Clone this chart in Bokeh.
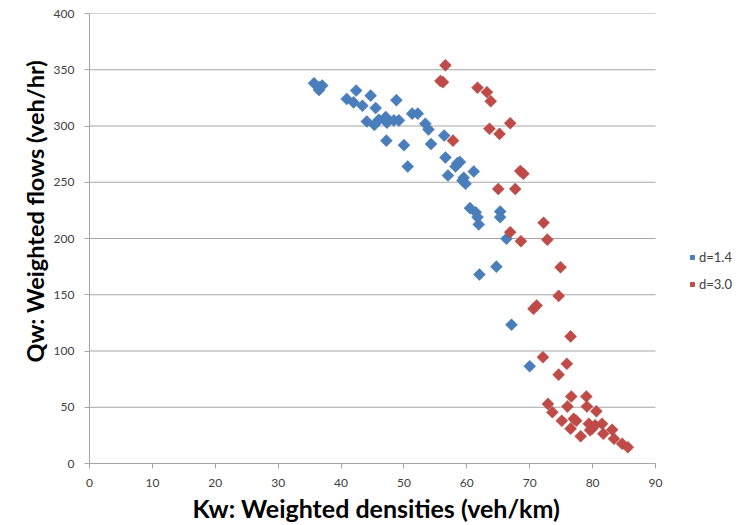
import numpy as np
from bokeh.plotting import figure
from bokeh.models import Range1d, FixedTicker, Legend, LegendItem, Title
from bokeh.embed import file_html
from bokeh.resources import INLINE

# Weighted density / flow pairs for the two d values
kw_d14 = [35.7, 36.6, 37.0, 36.5, 40.9, 42.4, 42.0, 43.4, 44.7, 45.5, 48.8, 44.1,
          45.3, 46.0, 47.1, 47.3, 48.4, 49.2, 51.3, 52.2, 53.4, 53.9, 47.2, 50.0,
          54.3, 56.4, 56.6, 50.6, 58.9, 58.2, 57.0, 61.1, 59.5, 59.8, 59.3, 58.5,
          60.5, 61.4, 61.7, 61.9, 65.3, 65.3, 66.3, 64.7, 62.0, 67.1, 70.0]
qw_d14 = [338, 334.5, 336, 332, 324, 331.5, 321, 318, 327, 316, 323, 304,
          301, 305.5, 308, 303, 305, 305, 311, 311, 302, 297, 287, 283,
          284, 291.5, 272, 264, 268, 264, 256, 259.5, 254, 248.6, 251.5, 267,
          227, 223.4, 219, 212.5, 224, 219, 199.7, 175, 168, 123.3, 86.5]

kw_d30 = [56.6, 55.8, 56.2, 61.7, 63.2, 63.8, 66.9, 63.6, 65.2, 57.8, 68.5, 69.0,
          65.0, 67.7, 72.2, 66.9, 68.6, 72.8, 74.9, 74.6, 70.6, 71.1, 76.5, 72.1,
          75.9, 74.6, 72.9, 73.6, 76.6, 76.0, 79.0, 79.1, 80.6, 75.1, 77.0, 77.4,
          76.5, 78.1, 79.4, 79.9, 80.4, 79.6, 81.5, 81.7, 83.1, 83.4, 84.7, 85.6]
qw_d30 = [354, 340, 339, 334, 330, 322, 302.5, 297.5, 293, 287, 260, 257.5,
          244, 244, 214, 205.6, 197.6, 199, 174.5, 149, 137.5, 140.4, 113, 94.5,
          88.6, 79, 53, 45.6, 59.6, 50.7, 59.6, 50.7, 46.5, 38, 39.7, 38,
          31, 24.3, 35.3, 31, 34, 29.6, 35.3, 26.4, 30, 22, 17.5, 14.5]

series_labels = ["d=1.4", "d=3.0"]
x_ticks = list(range(0, 91, 10))
y_ticks = list(range(0, 401, 50))

BLUE = "#4a7ebb"
RED = "#be4b48"
FONT = "Lato"
GRID = "#a6a6a6"

X_MAX = x_ticks[-1]
# the frame runs on past the last tick to leave room for the legend
X_VIEW = X_MAX * 650 / 566

p = figure(width=739, height=525, output_backend="svg", toolbar_location=None,
           x_range=Range1d(0, X_VIEW), y_range=Range1d(0, 400),
           min_border_left=89, min_border_right=0, min_border_top=13,
           min_border_bottom=62)
p.outline_line_color = None
p.background_fill_color = "white"
p.border_fill_color = "white"

# gridlines: horizontal only, stopping at the last x tick
p.xgrid.grid_line_color = None
p.ygrid.grid_line_color = None
p.segment(x0=[0] * len(y_ticks), x1=[X_MAX] * len(y_ticks), y0=y_ticks, y1=y_ticks,
          line_color=GRID, line_width=1)

# small legend keys, hidden beneath the first marker of each series
k1 = p.scatter(kw_d14[:1], qw_d14[:1], marker="square", angle=np.pi / 4, size=6,
               fill_color=BLUE, line_color=BLUE)
k2 = p.scatter(kw_d30[:1], qw_d30[:1], marker="square", angle=np.pi / 4, size=6,
               fill_color=RED, line_color=RED)

# data markers: squares turned 45 degrees give the diamond shape
r1 = p.scatter(kw_d14, qw_d14, marker="square", angle=np.pi / 4, size=8.5,
               fill_color=BLUE, line_color=BLUE, line_width=0.5)
r2 = p.scatter(kw_d30, qw_d30, marker="square", angle=np.pi / 4, size=8.5,
               fill_color=RED, line_color=RED, line_width=0.5)

for ax in (p.xaxis[0], p.yaxis[0]):
    ax.axis_line_color = GRID
    ax.major_tick_line_color = GRID
    ax.minor_tick_line_color = None
    ax.major_tick_in = 0
    ax.major_tick_out = 5
    ax.major_label_text_font = FONT
    ax.major_label_text_font_size = "12px"
    ax.major_label_text_color = "#404040"

p.xaxis[0].ticker = FixedTicker(ticks=x_ticks)
p.xaxis[0].bounds = (0, X_MAX)
p.yaxis[0].ticker = FixedTicker(ticks=y_ticks)
p.xaxis[0].major_label_standoff = 10
p.yaxis[0].major_label_standoff = 10

# axis titles sit in their own panels so they can be placed along each axis
xtitle = Title(text="Kw: Weighted densities (veh/km)", align="left", offset=103,
               text_font=FONT, text_font_style="bold", text_font_size="25px",
               text_color="black", standoff=2)
p.add_layout(xtitle, "below")

ytitle = Title(text="Qw: Weighted flows (veh/hr)", align="left", offset=101,
               text_font=FONT, text_font_style="bold", text_font_size="23.5px",
               text_color="black", standoff=4)
p.add_layout(ytitle, "left")

legend = Legend(items=[LegendItem(label=series_labels[0], renderers=[k1]),
                       LegendItem(label=series_labels[1], renderers=[k2])],
                location=(598, 171), orientation="vertical",
                label_text_font=FONT, label_text_font_size="13px",
                label_text_color="#404040", border_line_color=None,
                background_fill_alpha=0, glyph_width=10, glyph_height=16,
                label_height=16, label_standoff=2, spacing=11, padding=0,
                margin=0)
p.add_layout(legend, "center")

open("out.html", "w").write(file_html(p, INLINE))
